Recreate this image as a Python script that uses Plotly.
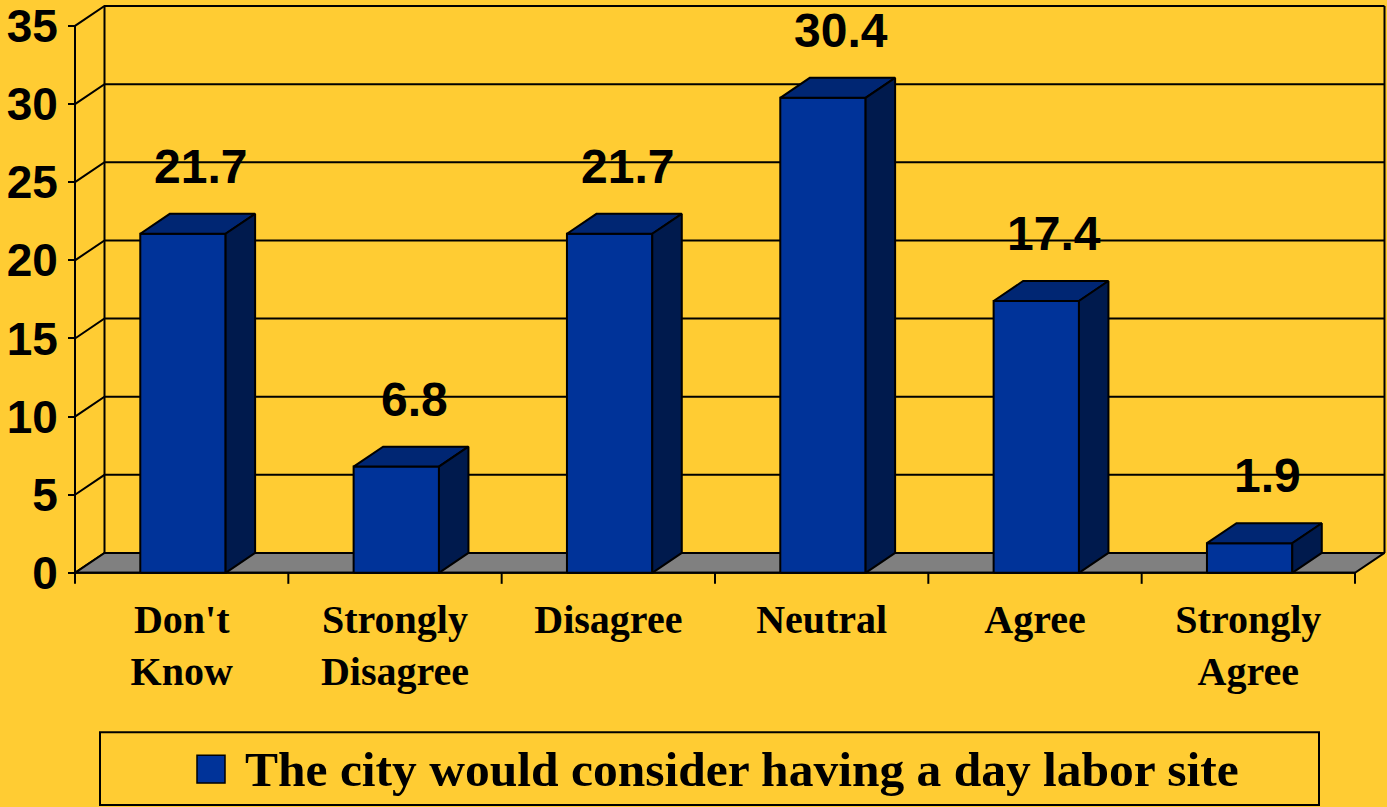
import plotly.graph_objects as go

# Survey responses (percent)
categories = ["Don't<br>Know", "Strongly<br>Disagree", "Disagree", "Neutral", "Agree", "Strongly<br>Agree"]
values = [21.7, 6.8, 21.7, 30.4, 17.4, 1.9]
y_ticks = [0, 5, 10, 15, 20, 25, 30, 35]
series_name = "The city would consider having a day labor site"

W, H = 1387, 807
BG = "#FFCC33"
FRONT = "#003399"
TOP = "#002673"
SIDE = "#001A4D"
FLOOR = "#808080"

# axis scales (pixels per data unit) and plot placement
px_per_cat = (1355 - 75) / 6.0
px_per_val = (572 - 23) / 35.0
x_range = [-0.5 - 75 / px_per_cat, 5.5 + (W - 1355) / px_per_cat]
y_range = [-(H - 572) / px_per_val, 572 / px_per_val]

# 3-D depth offset, expressed in data units
DX = 29.5 / px_per_cat
DY = 20.0 / px_per_val
HALF = 0.2
YMAX = max(y_ticks)
n = len(categories)
x0, x1 = -0.5, n - 0.5

fig = go.Figure()

def poly(xs, ys, fill, width=2):
    fig.add_trace(go.Scatter(x=xs, y=ys, mode="lines", fill="toself" if fill else None,
                             fillcolor=fill, line=dict(color="black", width=width),
                             hoverinfo="skip", showlegend=False))

# back wall gridlines plus the side-wall connectors
gx, gy = [], []
for v in y_ticks:
    gx += [x0, x0 + DX, x1 + DX, None]
    gy += [v, v + DY, v + DY, None]
gx += [x0 + DX, x0 + DX, None, x1 + DX, x1 + DX, None]
gy += [DY, YMAX + DY, None, DY, YMAX + DY, None]
poly(gx, gy, None)

# floor
poly([x0, x1, x1 + DX, x0 + DX, x0], [0, 0, DY, DY, 0], FLOOR)

# front value axis, category axis and boundary ticks
ax, ay = [x0, x0, None, x0, x1, None], [0, YMAX, None, 0, 0, None]
for k in range(n + 1):
    ax += [x0 + k, x0 + k, None]
    ay += [0, -11 / px_per_val, None]
poly(ax, ay, None)

# bars: front, top and side faces
fx, fy, tx, ty, sx, sy = [], [], [], [], [], []
for i, v in enumerate(values):
    a, b = i - HALF + 0.006, i + HALF + 0.006
    fx += [a, b, b, a, a, None]
    fy += [0, 0, v, v, 0, None]
    tx += [a, b, b + DX, a + DX, a, None]
    ty += [v, v, v + DY, v + DY, v, None]
    sx += [b, b + DX, b + DX, b, b, None]
    sy += [0, DY, v + DY, v, 0, None]
poly(fx, fy, FRONT)
poly(tx, ty, TOP)
poly(sx, sy, SIDE)

# value labels
for i, v in enumerate(values):
    fig.add_annotation(x=i + 0.09, y=v + 4.3, text=f"<b>{v}</b>", showarrow=False,
                       font=dict(family="Liberation Sans, Arial", size=48, color="black"),
                       xanchor="center", yanchor="middle")

# legend box
fig.add_shape(type="rect", xref="paper", yref="paper",
              x0=100 / W, x1=1319 / W, y0=1 - 805 / H, y1=1 - 732 / H,
              line=dict(color="black", width=2), fillcolor=BG)
fig.add_shape(type="rect", xref="paper", yref="paper",
              x0=197 / W, x1=225 / W, y0=1 - 783 / H, y1=1 - 755 / H,
              line=dict(color="black", width=1.5), fillcolor=FRONT)
fig.add_annotation(xref="paper", yref="paper", x=243 / W, y=1 - 769 / H,
                   text=f"<b>{series_name}</b>", showarrow=False,
                   xanchor="left", yanchor="middle",
                   font=dict(family="Liberation Serif, Times New Roman", size=49.5, color="black"))

fig.update_layout(
    width=W, height=H, margin=dict(l=0, r=0, t=0, b=0),
    paper_bgcolor=BG, plot_bgcolor=BG, showlegend=False,
    xaxis=dict(range=x_range, domain=[0, 1], showgrid=False, zeroline=False, showline=False,
               tickmode="array", tickvals=list(range(n)),
               ticktext=[f"<b>{c}</b>" for c in categories],
               tickfont=dict(family="Liberation Serif, Times New Roman", size=40, color="black"),
               ticks="", anchor="free", position=(H - 572) / H, ticklabelstandoff=19,
               ticklabeloverflow="allow"),
    yaxis=dict(range=y_range, domain=[0, 1], showgrid=False, zeroline=False, showline=False,
               tickmode="array", tickvals=y_ticks,
               ticks="outside", ticklen=7, tickwidth=2, tickcolor="black",
               tickfont=dict(family="Liberation Sans, Arial", size=46, color="black", weight="bold"),
               anchor="free", position=75 / W, ticklabelstandoff=1,
               ticklabeloverflow="allow"),
)

fig.write_html("out.html")
